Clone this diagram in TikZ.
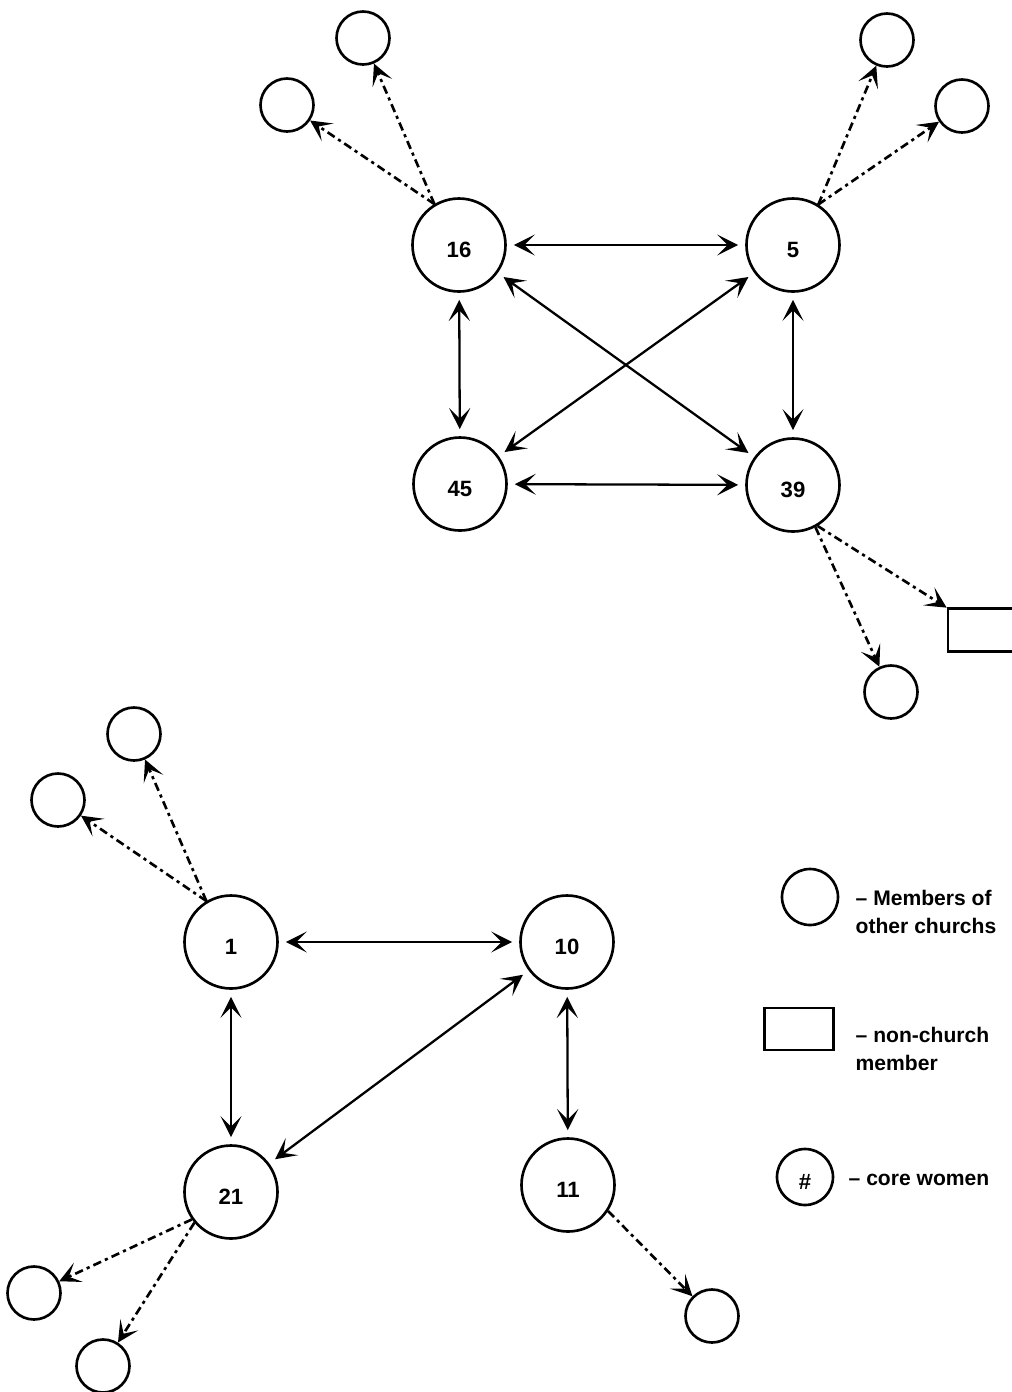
\documentclass[tikz,border=0pt]{standalone}
\usepackage{fontspec}
\setmainfont{Liberation Sans}
\usetikzlibrary{arrows.meta}
\tikzset{core/.style = {draw, circle, line width = 0.75pt, minimum size = 0.93cm,
                        inner sep = 0, text height = 0.72em, text depth = 0pt,
                        font = \fontsize{6.3}{7}\selectfont\bfseries}}
\tikzset{other/.style = {draw, circle, line width = 0.75pt, minimum size = 0.53cm, inner sep = 0}}
\tikzset{nonmember/.style = {draw, rectangle, line width = 0.75pt, minimum width = 0.68cm,
                             minimum height = 0.43cm, inner sep = 0}}
\tikzset{>={Stealth[length = 6pt, width = 6pt, inset = 3pt]}}
\tikzset{tie/.style = {<->, line width = 0.65pt, shorten > = 2pt, shorten < = 2pt}}
\tikzset{contact/.style = {->, line width = 0.75pt,
                           dash pattern = on 2.4pt off 1.2pt on 0.9pt off 1.2pt}}
\tikzset{legend/.style = {anchor = west, align = left, inner sep = 0,
                          font = \fontsize{6}{8}\selectfont\bfseries}}

\begin{document}
\begin{tikzpicture}[x = 0.1mm, y = -0.1mm]
    \useasboundingbox (0, 0) rectangle (1012, 1392);

    % upper group
    \node [core] (c16) at (459, 245) {16};
    \node [core] (c5)  at (793, 245) {5};
    \node [core] (c45) at (460, 484) {45};
    \node [core] (c39) at (793, 485) {39};

    \draw [tie] (c16) -- (c5);
    \draw [tie] (c16) -- (c45);
    \draw [tie] (c16) -- (c39);
    \draw [tie] (c5) -- (c45);
    \draw [tie] (c5) -- (c39);
    \draw [tie] (c45) -- (c39);

    \node [other] (o16a) at (363, 38) {};
    \node [other] (o16b) at (287, 105) {};
    \node [other] (o5a)  at (887, 40) {};
    \node [other] (o5b)  at (962, 106) {};
    \node [nonmember] (n39) at (982, 630) {};
    \node [other] (o39)  at (891, 692) {};

    \draw [contact] (c16.121) -- (o16a);
    \draw [contact] (c16.121) -- (o16b);
    \draw [contact] (c5.58) -- (o5a);
    \draw [contact] (c5.58) -- (o5b);
    \draw [contact] (c39.-59) -- (n39);
    \draw [contact] (c39.-62) -- (o39);

    % lower group
    \node [core] (c1)  at (231, 942) {1};
    \node [core] (c10) at (567, 942) {10};
    \node [core] (c21) at (231, 1192) {21};
    \node [core] (c11) at (568, 1185) {11};

    \draw [tie] (c1) -- (c10);
    \draw [tie] (c1) -- (c21);
    \draw [tie] (c10) -- (c21);
    \draw [tie] (c10) -- (c11);

    \node [other] (o1a)  at (134, 734) {};
    \node [other] (o1b)  at (58, 800) {};
    \node [other] (o21a) at (34, 1293) {};
    \node [other] (o21b) at (103, 1366) {};
    \node [other] (o11)  at (712, 1316) {};

    \draw [contact] (c1.121) -- (o1a);
    \draw [contact] (c1.121) -- (o1b);
    \draw [contact] (c21.-145) -- (o21a);
    \draw [contact] (c21.-140) -- (o21b);
    \draw [contact] (c11.-33) -- (o11);

    % legend
    \node [other, minimum size = 0.56cm] (keyother) at (810, 897) {};
    \node [legend] (keyothertext) at (855, 912) {\textendash{} Members of\\other churchs};
    \node [nonmember, minimum width = 0.69cm, minimum height = 0.42cm] (keynon) at (799, 1029) {};
    \node [legend] (keynontext) at (855, 1049) {\textendash{} non-church\\member};
    \node [core, minimum size = 0.56cm] (keycore) at (805, 1177) {\#};
    \node [legend] (keycoretext) at (848, 1180) {\textendash{} core women};
\end{tikzpicture}
\end{document}
